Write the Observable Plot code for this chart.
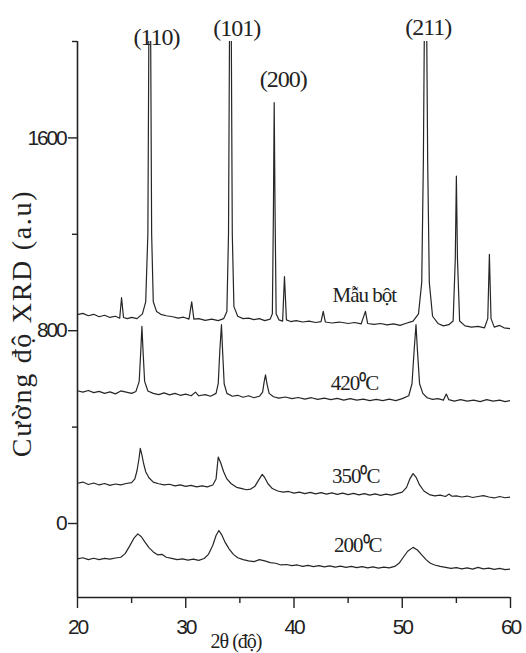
<!DOCTYPE html>
<html>
<head>
<meta charset="utf-8">
<script src="https://cdn.jsdelivr.net/npm/d3@7"></script>
<script src="https://cdn.jsdelivr.net/npm/@observablehq/plot@0.6"></script>
<style>
  html, body { margin: 0; padding: 0; background: #fff; }
  #chart svg { display: block; }
</style>
</head>
<body>
<div id="chart"></div>
<script>
// ---- data ----
const powder = [[20,867],[20.5,872],[21,862],[21.5,868],[22,858],[22.5,864],[23,855],[23.5,860],[23.9,852],[24.07,937],[24.25,855],[24.6,850],[25,855],[25.5,850],[26.0,870],[26.3,920],[26.5,1200],[26.6,2100],[26.75,2100],[26.85,1200],[27.0,920],[27.3,880],[27.7,868],[28.2,862],[28.8,858],[29.3,852],[29.8,856],[30.3,848],[30.55,920],[30.75,848],[31.2,850],[31.8,843],[32.4,848],[33.0,842],[33.5,850],[33.8,880],[33.95,1200],[34.05,2100],[34.2,2100],[34.3,1200],[34.45,900],[34.8,860],[35.3,850],[35.8,852],[36.3,846],[36.8,850],[37.3,842],[37.8,848],[38.0,870],[38.1,1300],[38.17,1746],[38.25,1300],[38.35,870],[38.6,845],[38.95,840],[39.12,1025],[39.3,845],[39.7,838],[40.2,842],[40.8,836],[41.4,840],[42,834],[42.5,838],[42.7,880],[42.9,836],[43.5,832],[44.2,836],[45,830],[45.6,834],[46.2,828],[46.6,880],[46.8,830],[47.4,826],[48,830],[48.6,824],[49.2,828],[49.8,822],[50.3,830],[51.0,840],[51.5,870],[51.8,1000],[51.95,1500],[52.05,2100],[52.25,2100],[52.35,1500],[52.5,1000],[52.8,860],[53.3,830],[53.8,820],[54.3,825],[54.7,840],[54.9,1100],[55.0,1442],[55.1,1100],[55.3,840],[55.8,820],[56.4,815],[57.0,818],[57.6,812],[57.9,850],[58.05,1117],[58.2,850],[58.5,815],[59.0,822],[59.4,812],[60,808]];

const t420 = [[20,551],[20.5,545],[21,552],[21.5,543],[22,548],[22.5,540],[23,546],[23.5,538],[24,550],[24.5,545],[25,540],[25.4,548],[25.7,590],[25.85,720],[25.95,818],[26.05,720],[26.2,590],[26.5,550],[27,540],[27.5,535],[28,542],[28.5,534],[29,540],[29.5,532],[30,537],[30.5,530],[30.9,545],[31.2,530],[31.8,535],[32.3,528],[32.8,540],[33.0,580],[33.15,720],[33.3,825],[33.4,720],[33.55,580],[33.8,540],[34.3,528],[34.8,532],[35.3,524],[35.8,530],[36.3,522],[36.8,528],[37.1,545],[37.25,590],[37.37,617],[37.5,580],[37.7,540],[38.1,526],[38.6,520],[39.2,525],[39.8,518],[40.4,523],[41,516],[41.6,522],[42.2,515],[42.8,520],[43.4,514],[44,519],[44.6,512],[45.2,518],[45.8,512],[46.4,516],[47,510],[47.6,515],[48.2,510],[48.8,516],[49.4,510],[50,518],[50.6,530],[50.9,580],[51.1,720],[51.27,825],[51.4,720],[51.6,580],[51.9,540],[52.3,522],[52.8,515],[53.3,518],[53.8,512],[54.07,537],[54.3,514],[54.8,508],[55.4,514],[56,508],[56.6,512],[57.2,506],[57.8,514],[58.4,508],[59,512],[59.5,506],[60,510]];

const t350 = [[20,167],[20.5,172],[21,162],[21.5,168],[22,160],[22.5,166],[23,158],[23.5,164],[24,160],[24.5,166],[25,170],[25.3,185],[25.5,220],[25.7,275],[25.8,312],[25.95,285],[26.1,250],[26.3,215],[26.6,190],[27,172],[27.5,165],[28,160],[28.5,163],[29,156],[29.5,160],[30,154],[30.5,158],[31,152],[31.5,156],[32,152],[32.5,160],[32.8,185],[33.0,276],[33.2,255],[33.5,215],[33.8,185],[34.2,165],[34.7,150],[35.2,145],[35.6,140],[36,143],[36.4,155],[36.8,185],[37.07,204],[37.3,190],[37.6,165],[38,145],[38.5,135],[39,130],[39.5,133],[40,126],[40.5,130],[41,124],[41.5,129],[42,123],[42.5,128],[43,122],[43.5,127],[44,121],[44.5,126],[45,120],[45.5,125],[46,119],[46.5,124],[47,118],[47.5,123],[48,117],[48.5,122],[49,118],[49.5,124],[50,130],[50.4,150],[50.7,185],[51.0,207],[51.3,190],[51.6,160],[52,135],[52.5,120],[53,115],[53.5,118],[54,112],[54.3,122],[54.6,113],[55,115],[55.5,110],[56,114],[56.5,108],[57,112],[57.5,116],[58,110],[58.5,106],[59,112],[59.5,107],[60,110]];

const t200 = [[20,-147],[20.5,-142],[21,-150],[21.5,-144],[22,-150],[22.5,-145],[23,-148],[23.5,-143],[24,-140],[24.4,-125],[24.8,-95],[25.2,-62],[25.57,-43],[25.9,-55],[26.2,-75],[26.6,-100],[27,-118],[27.4,-130],[27.8,-128],[28.2,-140],[28.7,-145],[29.2,-150],[29.7,-147],[30.2,-152],[30.7,-148],[31.2,-153],[31.7,-145],[32.1,-128],[32.5,-90],[32.8,-50],[33.06,-29],[33.3,-45],[33.6,-75],[34,-105],[34.4,-128],[34.8,-142],[35.3,-150],[35.8,-155],[36.3,-158],[36.8,-150],[37.3,-155],[37.8,-162],[38.3,-165],[38.8,-172],[39.3,-170],[39.8,-175],[40.3,-172],[40.8,-178],[41.3,-174],[41.8,-179],[42.3,-175],[42.8,-180],[43.3,-176],[43.8,-181],[44.3,-177],[44.8,-182],[45.3,-178],[45.8,-183],[46.3,-179],[46.8,-184],[47.3,-180],[47.8,-185],[48.3,-181],[48.8,-184],[49.3,-178],[49.7,-165],[50.1,-140],[50.5,-115],[51.0,-99],[51.4,-110],[51.8,-130],[52.2,-150],[52.6,-165],[53,-172],[53.5,-178],[54,-182],[54.5,-186],[55,-183],[55.5,-188],[56,-184],[56.5,-189],[57,-182],[57.5,-188],[58,-185],[58.5,-190],[59,-186],[59.5,-191],[60,-189]];

const peakLabels = ["(110)", "(101)", "(200)", "(211)"];
const peakLabelX = [27.3, 34.7, 39.0, 52.4];
const peakLabelY = [2017, 2054, 1842, 2058];

const seriesLabels = ["Mẫu bột", "420⁰C", "350⁰C", "200⁰C"];
const seriesLabelX = [46.5, 45.6, 45.7, 45.9];
const seriesLabelY = [946, 581, 195, -91];

const xMajorTicks = [20, 30, 40, 50, 60];
const xMinorTicks = [25, 35, 45, 55];
const yMajorTicks = [0, 800, 1600];
const yMinorTicks = [400, 1200, 2000];

const xTitle = "2θ (độ)";
const yTitle = "Cường độ XRD (a.u)";

// ---- chart ----
const serif = "'Liberation Serif', 'Times New Roman', serif";
const sans = "'Liberation Sans', Arial, sans-serif";
const lineStyle = {x: d => d[0], y: d => d[1], stroke: "#262626", strokeWidth: 1.2, clip: true, curve: "linear"};

const peakData = peakLabels.map((t, i) => ({t, x: peakLabelX[i], y: peakLabelY[i]}));
const serData = seriesLabels.map((t, i) => ({t, x: seriesLabelX[i], y: seriesLabelY[i]}));

const chart = Plot.plot({
  width: 526,
  height: 653,
  marginLeft: 77,
  marginRight: 16,
  marginTop: 41,
  marginBottom: 56,
  x: {domain: [20, 60]},
  y: {domain: [-307, 2000]},
  marks: [
    Plot.line(t200, lineStyle),
    Plot.line(t350, lineStyle),
    Plot.line(t420, lineStyle),
    Plot.line(powder, lineStyle),
    Plot.ruleX([20], {stroke: "#222", strokeWidth: 1.6}),
    Plot.ruleY([-307], {stroke: "#222", strokeWidth: 1.6}),
    Plot.axisY({ticks: yMajorTicks, tickFormat: d => String(d), tickSize: 9, tickPadding: 3, label: null, fontSize: 21, fontFamily: sans, stroke: "#222", strokeWidth: 1.4, fill: "#222"}),
    Plot.axisY({ticks: yMinorTicks, tickSize: 5, text: null, label: null, stroke: "#222", strokeWidth: 1.4}),
    Plot.axisX({ticks: xMajorTicks, tickFormat: d => String(d), tickSize: 11, tickPadding: 11, label: null, fontSize: 21, fontFamily: sans, stroke: "#222", strokeWidth: 1.4, fill: "#222"}),
    Plot.axisX({ticks: xMinorTicks, tickSize: 6, text: null, label: null, stroke: "#222", strokeWidth: 1.4}),
    Plot.text(peakData, {x: "x", y: "y", text: "t", fontSize: 24, fontFamily: serif, fill: "#222", clip: false}),
    Plot.text(serData, {x: "x", y: "y", text: "t", fontSize: 21, fontFamily: serif, fill: "#222", clip: false}),
    Plot.text([xTitle], {frameAnchor: "bottom", textAnchor: "middle", dx: -58, dy: 50, fontSize: 20, fontFamily: serif, fill: "#222"}),
    Plot.text([yTitle], {frameAnchor: "left", textAnchor: "middle", dx: -55, dy: 4, rotate: -90, fontSize: 28, fontFamily: serif, fill: "#222"})
  ]
});

document.getElementById("chart").appendChild(chart);
const svg = d3.select(chart);
svg.style("font-family", serif);
svg.selectAll('g[aria-label="y-axis tick label"] text, g[aria-label="x-axis tick label"] text').style("letter-spacing", "-2.2px");
svg.selectAll('g[aria-label="text"] text').style("letter-spacing", "-1px");
svg.selectAll('g[aria-label="text"] text').filter(function() { return this.textContent === yTitle; }).style("letter-spacing", "1.7px");
</script>
</body>
</html>
